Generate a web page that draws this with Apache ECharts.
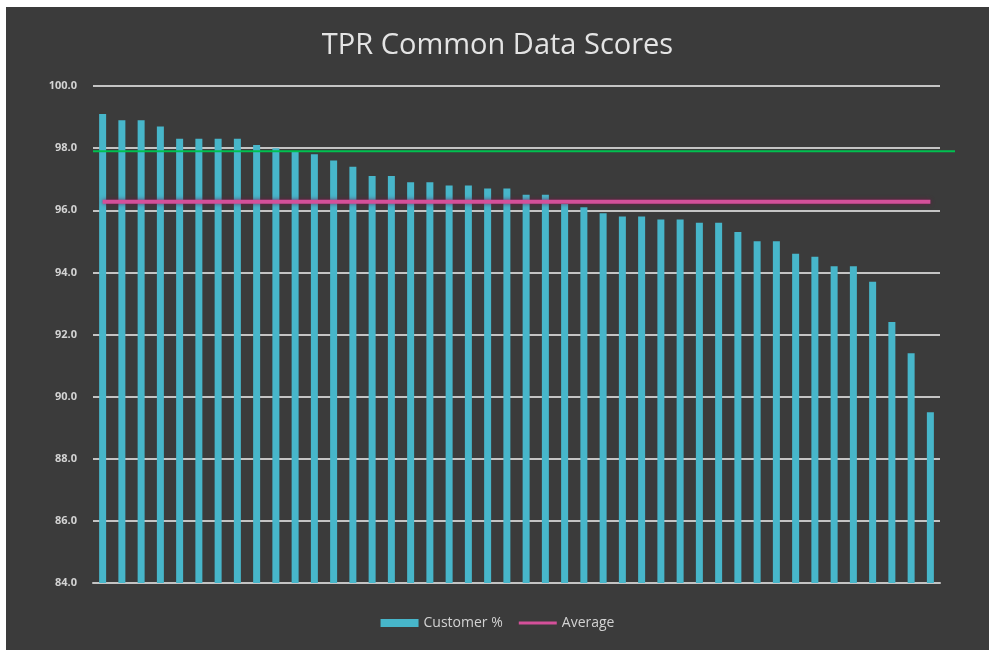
<!DOCTYPE html>
<html>
<head>
<meta charset="utf-8">
<script src="https://cdn.jsdelivr.net/npm/echarts@6/dist/echarts.min.js"></script>
<style>
  html, body { margin: 0; padding: 0; background: #ffffff; }
  #chart { position: absolute; left: 6px; top: 7px; width: 983px; height: 643px; background: #3b3b3b; }
</style>
</head>
<body>
<div id="chart"></div>
<script>
// customer scores (sorted high to low)
const scores = [
  99.1, 98.9, 98.9, 98.7, 98.3, 98.3, 98.3, 98.3, 98.1, 98.0,
  97.9, 97.8, 97.6, 97.4, 97.1, 97.1, 96.9, 96.9, 96.8, 96.8,
  96.7, 96.7, 96.5, 96.5, 96.2, 96.1, 95.9, 95.8, 95.8, 95.7,
  95.7, 95.6, 95.6, 95.3, 95.0, 95.0, 94.6, 94.5, 94.2, 94.2,
  93.7, 92.4, 91.4, 89.5
];
const categories = scores.map((_, i) => String(i + 1));
const averageScore = 96.27;
const targetScore = 97.9;
const yTicks = [84, 86, 88, 90, 92, 94, 96, 98, 100];

const chart = echarts.init(document.getElementById('chart'), null, { renderer: 'canvas' });

chart.setOption({
  animation: false,
  backgroundColor: '#3b3b3b',
  title: {
    text: 'TPR Common Data Scores',
    left: 'center',
    top: 19,
    textStyle: {
      color: '#e4e4e4',
      fontSize: 29,
      fontWeight: 'normal',
      fontFamily: 'Open Sans',
    },
  },
  legend: {
    left: 'center',
    top: 604,
    itemGap: 16,
    textStyle: { color: '#d2d2d2', fontSize: 14, fontFamily: 'Open Sans' },
    data: [
      { name: 'Customer %', icon: 'rect', itemStyle: { color: '#47b6ca' } },
      { name: 'Average', icon: 'path://M0,0 L40,0 L40,3 L0,3 Z', itemStyle: { color: '#d4509a' } },
    ],
    itemWidth: 38,
    itemHeight: 8,
  },
  grid: {
    left: 87,
    right: 49,
    top: 79,
    bottom: 67,
  },
  xAxis: {
    type: 'category',
    data: categories,
    axisLine: { show: true, lineStyle: { color: '#c4c4c4', width: 2 } },
    axisTick: { show: false },
    axisLabel: { show: false },
  },
  yAxis: {
    type: 'value',
    min: yTicks[0],
    max: yTicks[yTicks.length - 1],
    interval: 2,
    axisLine: { show: false },
    axisTick: { show: false },
    axisLabel: {
      color: '#d4d4d4',
      fontSize: 11,
      fontWeight: 'bold',
      fontFamily: 'Open Sans',
      margin: 16,
      formatter: v => v.toFixed(1),
    },
    splitLine: { lineStyle: { color: '#c4c4c4', width: 2 } },
  },
  series: [
    {
      name: 'Customer %',
      type: 'bar',
      data: scores,
      barWidth: 7,
      itemStyle: { color: '#47b6ca' },
      z: 2,
    },
    {
      name: 'Average',
      type: 'line',
      data: categories.map(() => averageScore),
      symbol: 'none',
      lineStyle: { color: '#d4509a', width: 4, shadowColor: 'rgba(120,20,70,0.8)', shadowBlur: 4 },
      itemStyle: { color: '#d4509a' },
      z: 3,
    },
  ],
});

// green target line runs a little past the plot's right edge
const targetY = chart.convertToPixel({ yAxisIndex: 0 }, targetScore);
chart.setOption({
  graphic: [{
    type: 'line',
    shape: { x1: 87, y1: targetY, x2: 949, y2: targetY },
    style: { stroke: '#00c050', lineWidth: 2 },
    z: 10,
  }],
});
</script>
</body>
</html>
